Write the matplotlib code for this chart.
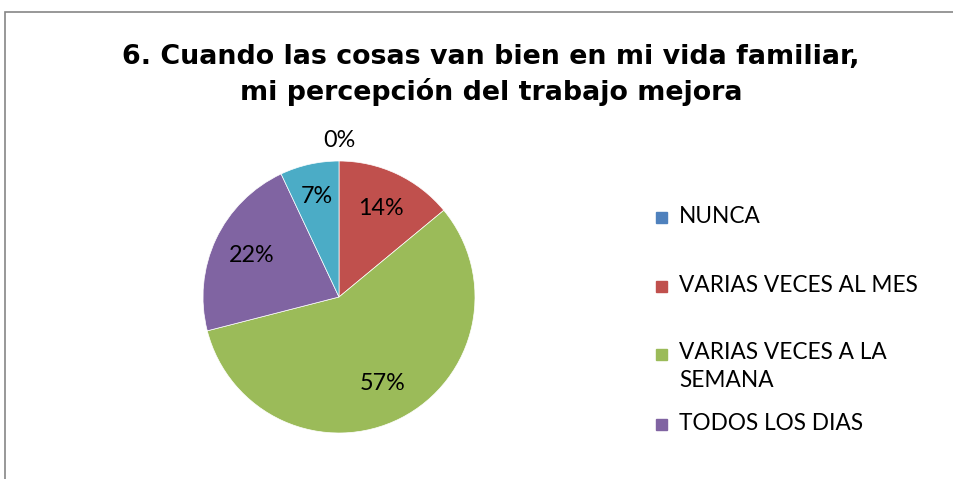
import numpy as np
import matplotlib

matplotlib.use("Agg")
import matplotlib.pyplot as plt
from matplotlib.patches import Rectangle

# data
categories = ["NUNCA", "VARIAS VECES AL MES", "VARIAS VECES A LA\nSEMANA",
              "TODOS LOS DIAS", ""]
values = [0, 14, 57, 22, 7]
colors = ["#4F81BD", "#C0504D", "#9BBB59", "#8064A2", "#4BACC6"]
label_r = [1.15, 0.72, 0.71, 0.71, 0.76]
title = "6. Cuando las cosas van bien en mi vida familiar,\nmi percepción del trabajo mejora"

W, H = 954, 479
fig = plt.figure(figsize=(W / 100, H / 100), dpi=100)

# outer chart frame (cut off on right/bottom like the source)
fig.patches.append(Rectangle((5 / W, -0.1), 1.2, 1 - 12 / H + 0.1,
                             transform=fig.transFigure, fill=False,
                             edgecolor="#868686", lw=1.2))

fig.text(491 / W, 1 - 75 / H, title, ha="center", va="center",
         fontsize=19.4, fontweight="bold", family="DejaVu Sans",
         linespacing=1.33)

# pie axes
cx, cy, r = 339, 297, 136
ax = fig.add_axes([(cx - r) / W, 1 - (cy + r) / H, 2 * r / W, 2 * r / H])
ax.pie(values, colors=colors, startangle=90, counterclock=False,
       wedgeprops=dict(edgecolor="white", linewidth=0.5))
ax.set_xlim(-1, 1); ax.set_ylim(-1, 1)
ax.set_aspect("equal")
ax.axis("off")

total = sum(values)
start = 90.0
for v, lr in zip(values, label_r):
    sweep = 360.0 * v / total
    mid = np.deg2rad(start - sweep / 2)
    start -= sweep
    ax.text(lr * np.cos(mid), lr * np.sin(mid),
            f"{v:.0f}%", ha="center", va="center", fontsize=16.8, family="Lato")

# legend, drawn by hand to match the Excel layout
leg_y = [217, 286, 354, 424]
for name, col, y in zip(categories[:4], colors[:4], leg_y):
    fig.patches.append(Rectangle((656 / W, 1 - (y + 5.5) / H), 11 / W, 11 / H,
                                 transform=fig.transFigure, color=col))
    if "\n" in name:
        fig.text(679 / W, 1 - (y - 12) / H, name, ha="left", va="top",
                 fontsize=16.3, family="Lato", linespacing=1.4)
    else:
        fig.text(679 / W, 1 - y / H, name, ha="left", va="center",
                 fontsize=16.3, family="Lato")

fig.savefig("out.png", dpi=100)
